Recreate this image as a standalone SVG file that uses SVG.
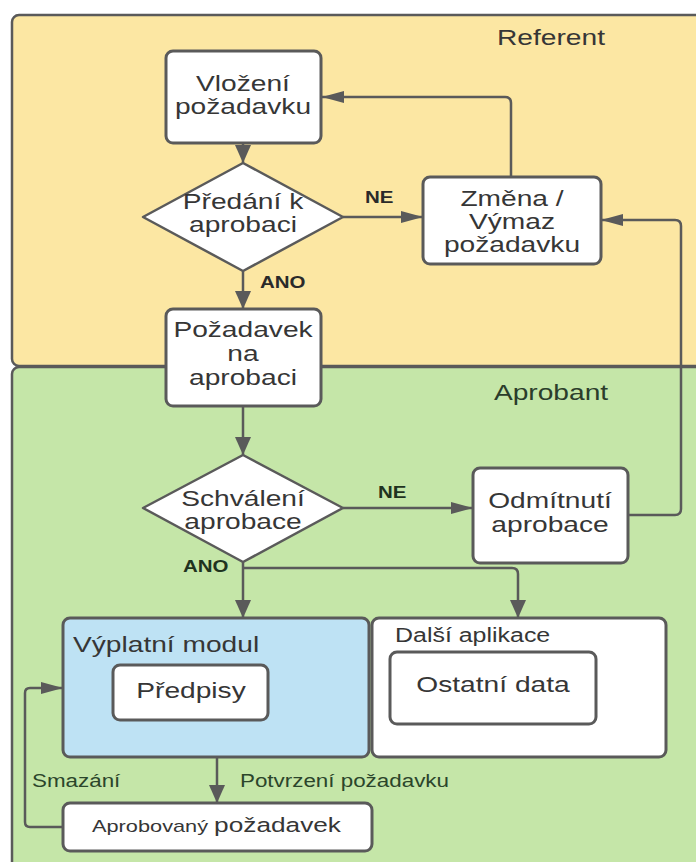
<svg xmlns="http://www.w3.org/2000/svg" width="696" height="862" viewBox="0 0 696 862">
  <style>
    .lane { stroke: #5a5a5a; stroke-width: 2.5; }
    .box { fill: #ffffff; stroke: #5a5a5a; stroke-width: 3; }
    .dia { fill: #ffffff; stroke: #5a5a5a; stroke-width: 2.5; stroke-linejoin: round; }
    .edge { fill: none; stroke: #5a5a5a; stroke-width: 2.5; }
    text { font-family: "Liberation Sans", Arial, sans-serif; fill: #363636; }
    .t { font-size: 22px; text-anchor: middle; }
    .tl { font-size: 22px; }
    .lbl { font-size: 16px; font-weight: bold; fill: #2a2a2a; }
    .lblg { font-size: 16px; font-weight: bold; fill: #1f331f; }
    .note { font-size: 17.5px; fill: #2b452b; }
  </style>
  <defs>
    <marker id="av" markerUnits="userSpaceOnUse" markerWidth="20" markerHeight="18" refX="18" refY="8" orient="auto">
      <path d="M0,0 L18,8 L0,16 Z" fill="#5a5a5a"/>
    </marker>
    <marker id="ah" markerUnits="userSpaceOnUse" markerWidth="24" markerHeight="14" refX="22" refY="6" orient="auto">
      <path d="M0,0 L22,6 L0,12 Z" fill="#5a5a5a"/>
    </marker>
  </defs>

  <!-- swimlanes -->
  <g id="lane-referent">
    <rect class="lane" x="12" y="15" width="700" height="351" rx="7" fill="#fce7a3"/>
    <text class="t" transform="translate(551 45) scale(1.28 1)">Referent</text>
  </g>
  <g id="lane-aprobant">
    <rect class="lane" x="12" y="367" width="700" height="520" rx="7" fill="#c5e6a8"/>
    <text class="t" transform="translate(551 400) scale(1.28 1)" style="fill:#2b3d2b">Aprobant</text>
  </g>

  <!-- connectors -->
  <g id="connectors">
    <path class="edge" d="M243,143 V163" marker-end="url(#av)"/>
    <path class="edge" d="M243,271 V309" marker-end="url(#av)"/>
    <path class="edge" d="M343,217 H423" marker-end="url(#ah)"/>
    <path class="edge" d="M511,177 V103 Q511,97 505,97 H322" marker-end="url(#ah)"/>
    <path class="edge" d="M243,406 V455" marker-end="url(#av)"/>
    <path class="edge" d="M343,508 H473" marker-end="url(#ah)"/>
    <path class="edge" d="M628,515 H675 Q681,515 681,509 V226 Q681,220 675,220 H601" marker-end="url(#ah)"/>
    <path class="edge" d="M243,562 V618" marker-end="url(#av)"/>
    <path class="edge" d="M243,568 H512 Q518,568 518,574 V618" marker-end="url(#av)"/>
    <path class="edge" d="M217,757 V803" marker-end="url(#av)"/>
    <path class="edge" d="M63,827 H30 Q25,827 25,822 V693 Q25,688 30,688 H63" marker-end="url(#ah)"/>
    <text class="lbl" transform="translate(260 288) scale(1.28 1)">ANO</text>
    <text class="lbl" transform="translate(365 203) scale(1.28 1)">NE</text>
    <text class="lblg" transform="translate(378 498) scale(1.28 1)">NE</text>
    <text class="lblg" transform="translate(183 572) scale(1.28 1)">ANO</text>
    <text class="note" transform="translate(32 787) scale(1.28 1)">Smazání</text>
    <text class="note" transform="translate(240 787) scale(1.28 1)">Potvrzení požadavku</text>
  </g>

  <!-- nodes -->
  <g id="vlozeni">
    <rect class="box" x="166" y="51" width="155" height="92" rx="7"/>
    <text class="t" transform="translate(243 91) scale(1.28 1)"><tspan x="0" y="0">Vložení</tspan><tspan x="0" y="23">požadavku</tspan></text>
  </g>
  <g id="predani">
    <polygon class="dia" points="243,163 343,217 243,271 143,217"/>
    <text class="t" transform="translate(243 209) scale(1.28 1)"><tspan x="0" y="0">Předání k</tspan><tspan x="0" y="23">aprobaci</tspan></text>
  </g>
  <g id="zmena">
    <rect class="box" x="423" y="177" width="178" height="87" rx="7"/>
    <text class="t" transform="translate(512 206) scale(1.28 1)"><tspan x="0" y="0">Změna /</tspan><tspan x="0" y="23">Výmaz</tspan><tspan x="0" y="46">požadavku</tspan></text>
  </g>
  <g id="pozadavek">
    <rect class="box" x="166" y="309" width="155" height="97" rx="7"/>
    <text class="t" transform="translate(243 337) scale(1.28 1)"><tspan x="0" y="0">Požadavek</tspan><tspan x="0" y="24">na</tspan><tspan x="0" y="48">aprobaci</tspan></text>
  </g>
  <g id="schvaleni">
    <polygon class="dia" points="243,455 343,508 243,562 143,508"/>
    <text class="t" transform="translate(243 506) scale(1.28 1)"><tspan x="0" y="0">Schválení</tspan><tspan x="0" y="23">aprobace</tspan></text>
  </g>
  <g id="odmitnuti">
    <rect class="box" x="473" y="468" width="155" height="95" rx="7"/>
    <text class="t" transform="translate(550 508) scale(1.28 1)"><tspan x="0" y="0">Odmítnutí</tspan><tspan x="0" y="24">aprobace</tspan></text>
  </g>
  <g id="vyplatni-modul">
    <rect class="box" x="63" y="618" width="306" height="139" rx="7" style="fill:#bee2f4"/>
    <text class="tl" transform="translate(73 652) scale(1.28 1)">Výplatní modul</text>
    <g id="predpisy">
      <rect class="box" x="113" y="665" width="155" height="55" rx="7"/>
      <text class="t" transform="translate(191 698) scale(1.28 1)">Předpisy</text>
    </g>
  </g>
  <g id="dalsi-aplikace">
    <rect class="box" x="372" y="618" width="294" height="139" rx="7"/>
    <text class="tl" transform="translate(395 642) scale(1.28 1)" style="font-size:19.5px">Další aplikace</text>
    <g id="ostatni-data">
      <rect class="box" x="390" y="652" width="206" height="72" rx="7"/>
      <text class="t" transform="translate(493 692) scale(1.28 1)">Ostatní data</text>
    </g>
  </g>
  <g id="aprobovany">
    <rect class="box" x="63" y="803" width="309" height="48" rx="7"/>
    <text transform="translate(92 832) scale(1.28 1)"><tspan style="font-size:17px">Aprobovaný </tspan><tspan style="font-size:20.5px">požadavek</tspan></text>
  </g>
</svg>
